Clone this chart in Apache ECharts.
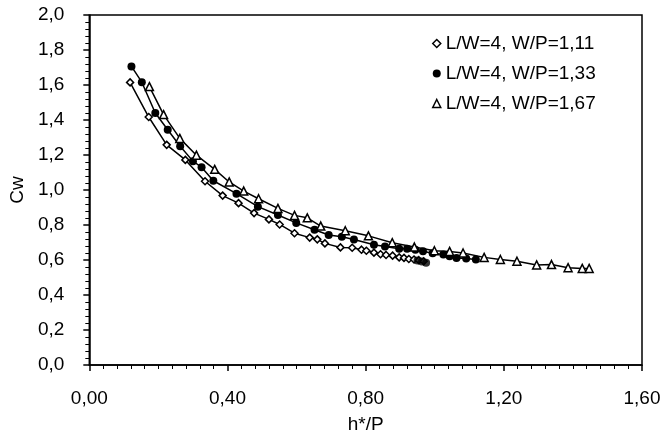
<!DOCTYPE html>
<html>
<head>
<meta charset="utf-8">
<script src="https://cdn.jsdelivr.net/npm/echarts@6/dist/echarts.min.js"></script>
<style>
html,body{margin:0;padding:0;background:#fff;}
#chart{width:667px;height:439px;}
</style>
</head>
<body>
<div id="chart"></div>
<script>
// Series names
var seriesNames = ['L/W=4, W/P=1,11', 'L/W=4, W/P=1,33', 'L/W=4, W/P=1,67'];

// L/W=4, W/P=1,11 (open diamonds)
var hA = [0.118,0.172,0.224,0.278,0.335,0.386,0.432,0.477,0.520,0.551,0.594,0.638,0.660,0.682,0.727,0.761,0.788,0.802,0.824,0.843,0.859,0.878,0.897,0.911,0.925,0.940,0.954,0.968];
var cA = [1.615,1.417,1.258,1.172,1.050,0.968,0.925,0.868,0.832,0.803,0.753,0.728,0.718,0.695,0.672,0.670,0.659,0.653,0.642,0.633,0.629,0.625,0.615,0.612,0.606,0.603,0.599,0.593];

// L/W=4, W/P=1,33 (filled circles)
var hB = [0.122,0.152,0.191,0.227,0.263,0.300,0.325,0.359,0.426,0.488,0.546,0.599,0.652,0.693,0.731,0.766,0.824,0.856,0.897,0.920,0.944,0.966,0.994,1.025,1.043,1.063,1.091,1.119];
var cB = [1.706,1.616,1.440,1.344,1.250,1.165,1.130,1.053,0.979,0.905,0.857,0.812,0.773,0.743,0.733,0.717,0.687,0.677,0.664,0.664,0.659,0.650,0.639,0.631,0.621,0.612,0.608,0.603];
// a few extra W/P=1,33 points lying on the lower branch
var hBextra = [0.950,0.963,0.975];
var cBextra = [0.597,0.591,0.585];

// L/W=4, W/P=1,67 (open triangles)
var hC = [0.174,0.215,0.262,0.310,0.363,0.405,0.447,0.490,0.546,0.594,0.631,0.670,0.741,0.808,0.877,0.941,0.999,1.043,1.082,1.143,1.190,1.238,1.295,1.338,1.386,1.427,1.447];
var cC = [1.591,1.431,1.295,1.199,1.118,1.046,0.994,0.950,0.895,0.855,0.841,0.794,0.767,0.738,0.699,0.674,0.653,0.649,0.640,0.615,0.603,0.593,0.572,0.574,0.556,0.552,0.552];

// Axis settings
var xMin = 0, xMax = 1.6, xStep = 0.4;
var yMin = 0, yMax = 2.0, yStep = 0.2;
var xTitle = 'h*/P';
var yTitle = 'Cw';

function pairs(xs, ys){ return xs.map(function(v,i){ return [v, ys[i]]; }); }

var FONT = 'Liberation Sans, Arial, sans-serif';
var FS = 19;

var chart = echarts.init(document.getElementById('chart'), null, {renderer:'canvas'});
var option = {
  animation: false,
  backgroundColor: '#fff',
  grid: {left: 81, right: 25, top: 15, bottom: 66, show: true, borderColor: '#000', borderWidth: 1.5, backgroundColor: 'transparent'},
  legend: {
    orient: 'vertical', left: 427, top: 29, itemGap: 11, itemWidth: 8, itemHeight: 8,
    textStyle: {fontFamily: FONT, fontSize: FS, color: '#000'},
    data: [
      {name: seriesNames[0], icon: 'diamond', itemStyle: {color: '#fff', borderColor: '#000', borderWidth: 1.5}},
      {name: seriesNames[1], icon: 'circle', itemStyle: {color: '#000', borderColor: '#000', borderWidth: 0}},
      {name: seriesNames[2], icon: 'triangle', itemStyle: {color: '#fff', borderColor: '#000', borderWidth: 1.5}}
    ]
  },
  xAxis: {
    type: 'value', min: xMin, max: xMax, interval: xStep,
    name: xTitle, nameLocation: 'middle', nameGap: 50,
    nameTextStyle: {fontFamily: FONT, fontSize: FS, color: '#000'},
    axisLine: {show: true, lineStyle: {color: '#000', width: 1.5}},
    axisTick: {show: true, inside: false, length: 6, lineStyle: {color: '#000', width: 1.5}},
    minorTick: {show: true, splitNumber: 10, length: 4, lineStyle: {color: '#000', width: 1}},
    splitLine: {show: false},
    axisLabel: {fontFamily: FONT, fontSize: FS, color: '#000', margin: 24,
      formatter: function(v){ return v.toFixed(2).replace('.', ','); }}
  },
  yAxis: {
    type: 'value', min: yMin, max: yMax, interval: yStep,
    name: yTitle, nameLocation: 'middle', nameGap: 47, nameRotate: 90,
    nameTextStyle: {fontFamily: FONT, fontSize: FS, color: '#000'},
    axisLine: {show: true, lineStyle: {color: '#000', width: 1.5}},
    axisTick: {show: true, inside: false, length: 6, lineStyle: {color: '#000', width: 1.5}},
    minorTick: {show: true, splitNumber: 5, length: 4, lineStyle: {color: '#000', width: 1}},
    splitLine: {show: false},
    axisLabel: {fontFamily: FONT, fontSize: FS, color: '#000', margin: 25,
      formatter: function(v){ return v.toFixed(1).replace('.', ','); }}
  },
  series: [
    {
      name: seriesNames[0], type: 'line', data: pairs(hA, cA),
      symbol: 'diamond', symbolSize: 7, showAllSymbol: true,
      lineStyle: {color: '#000', width: 1.5},
      itemStyle: {color: '#fff', borderColor: '#000', borderWidth: 1.5},
      emphasis: {disabled: true}, z: 3
    },
    {
      name: seriesNames[1], type: 'line', data: pairs(hB, cB),
      symbol: 'circle', symbolSize: 8, showAllSymbol: true,
      lineStyle: {color: '#000', width: 1.5},
      itemStyle: {color: '#000', borderColor: '#000', borderWidth: 0},
      emphasis: {disabled: true}, z: 3
    },
    {
      name: seriesNames[1] + ' extra', type: 'scatter', data: pairs(hBextra, cBextra),
      symbol: 'circle', symbolSize: 8,
      itemStyle: {color: '#000'},
      emphasis: {disabled: true}, z: 3
    },
    {
      name: seriesNames[2], type: 'line', data: pairs(hC, cC),
      symbol: 'triangle', symbolSize: 8, showAllSymbol: true,
      lineStyle: {color: '#000', width: 1.5},
      itemStyle: {color: '#fff', borderColor: '#000', borderWidth: 1.5},
      emphasis: {disabled: true}, z: 3
    }
  ]
};
chart.setOption(option);
</script>
</body>
</html>
